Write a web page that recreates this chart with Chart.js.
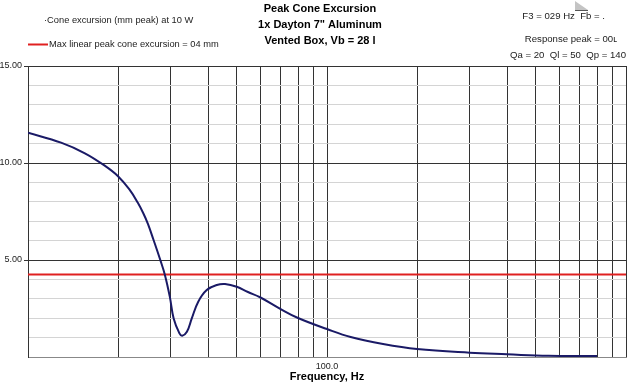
<!DOCTYPE html>
<html>
<head>
<meta charset="utf-8">
<script src="https://cdn.jsdelivr.net/npm/chart.js@4.4.0/dist/chart.umd.min.js"></script>
<style>
  html, body { margin:0; padding:0; background:#fff; }
  #wrap { width:640px; height:383px; position:relative; }
</style>
</head>
<body>
<div id="wrap"><canvas id="chart" width="640" height="383"></canvas></div>
<script>
// data
const freqs = [10, 12.9, 15.5, 18.1, 20, 21.8, 23.3, 24.3, 25.2, 26.3, 27.7, 28.7, 29.8, 30.7, 32.1, 32.8, 34.0, 35.3, 37.1, 39.6, 42.8, 45.6, 49.9, 54.4, 59.7, 70, 80, 100, 120, 154, 200, 300, 400, 550, 800];
const excursion = [11.56, 11.05, 10.5, 9.85, 9.32, 8.65, 7.95, 7.41, 6.85, 6.03, 5.0, 4.23, 3.11, 1.99, 1.22, 1.1, 1.3, 1.99, 2.85, 3.45, 3.71, 3.76, 3.62, 3.35, 3.08, 2.47, 2.01, 1.44, 1.03, 0.67, 0.41, 0.22, 0.14, 0.06, 0.05];
const xmaxLimit = 4.25;
const xTicks = [10, 20, 30, 40, 50, 60, 70, 80, 90, 100, 200, 300, 400, 500, 600, 700, 800, 900, 1000];
const yLabels = [5, 10, 15];

const titleLines = ['Peak Cone Excursion', '1x Dayton 7" Aluminum', 'Vented Box, Vb = 28 l'];
const legendText = ['\u00b7Cone excursion (mm peak) at 10 W', 'Max linear peak cone excursion = 04 mm'];
const infoLines = ['F3 = 029 Hz  Fb = .', 'Response peak = 00\u029f', 'Qa = 20  Ql = 50  Qp = 140'];

// extra text drawn straight on canvas
const textPlugin = {
  id: 'texts',
  afterDraw(chart) {
    const c = chart.ctx;
    c.save();
    c.fillStyle = '#000';
    c.textBaseline = 'middle';
    c.textAlign = 'center';
    c.font = 'bold 11px Arial, "Liberation Sans"';
    titleLines.forEach((t, i) => c.fillText(t, 320, 9 + i * 16));

    c.textAlign = 'left';
    c.font = '9.3px Arial, "Liberation Sans"';
    c.fillStyle = '#222';
    c.fillText(legendText[0], 44, 20);
    c.fillText(legendText[1], 49, 44);
    c.strokeStyle = '#e02020';
    c.lineWidth = 2;
    c.beginPath(); c.moveTo(28, 44.5); c.lineTo(48, 44.5); c.stroke();

    c.textAlign = 'right';
    c.font = '9.6px Arial, "Liberation Sans"';
    c.fillText(infoLines[0], 605, 16);
    c.fillText(infoLines[1], 617, 39);
    c.fillText(infoLines[2], 626, 55);

    c.textAlign = 'center';
    c.fillStyle = '#000';
    c.font = 'bold 11px Arial, "Liberation Sans"';
    c.fillText('Frequency, Hz', 327, 377);

    // little grey corner mark
    c.fillStyle = '#c4c4c4';
    c.beginPath(); c.moveTo(575, 1); c.lineTo(575, 10); c.lineTo(588, 10); c.closePath(); c.fill();
    c.strokeStyle = '#555'; c.lineWidth = 1;
    c.beginPath(); c.moveTo(575, 10.5); c.lineTo(588, 10.5); c.stroke();
    c.restore();
  }
};

const ctx = document.getElementById('chart').getContext('2d');
const chart = new Chart(ctx, {
  type: 'line',
  data: {
    datasets: [
      {
        data: freqs.map((f, i) => ({ x: f, y: excursion[i] })),
        borderColor: '#1a1a66',
        borderWidth: 2,
        pointRadius: 0,
        tension: 0.4,
        fill: false
      },
      {
        data: [{ x: 10, y: xmaxLimit }, { x: 1000, y: xmaxLimit }],
        borderColor: '#e02020',
        borderWidth: 2,
        pointRadius: 0,
        fill: false
      }
    ]
  },
  options: {
    responsive: false,
    animation: false,
    layout: { padding: { top: 66, right: 14, left: 0, bottom: 0 } },
    plugins: { legend: { display: false }, tooltip: { enabled: false } },
    scales: {
      x: {
        type: 'logarithmic',
        min: 10, max: 1000,
        afterBuildTicks: s => { s.ticks = xTicks.map(v => ({ value: v })); },
        afterFit: s => { s.height = 26; },
        ticks: {
          autoSkip: false, maxRotation: 0, padding: 4,
          color: '#222', font: { size: 9, family: 'Arial' },
          callback: v => (v === 100 ? '100.0' : '')
        },
        grid: { color: '#333', drawTicks: false },
        border: { color: '#888' }
      },
      y: {
        min: 0, max: 15,
        ticks: {
          stepSize: 1, padding: 2,
          color: '#222', font: { size: 9, family: 'Arial' },
          callback: v => (yLabels.includes(v) ? v.toFixed(2) : '')
        },
        afterFit: s => { s.width = 28; },
        grid: {
          tickLength: 4,
          color: c => (c.tick.value === 0 ? '#888' : (c.tick.value % 5 === 0 ? '#333' : '#d4d4d4')),
          tickColor: c => (c.tick.value % 5 === 0 && c.tick.value !== 0 ? '#333' : 'rgba(0,0,0,0)')
        },
        border: { color: '#333' }
      }
    }
  },
  plugins: [textPlugin]
});
</script>
</body>
</html>
